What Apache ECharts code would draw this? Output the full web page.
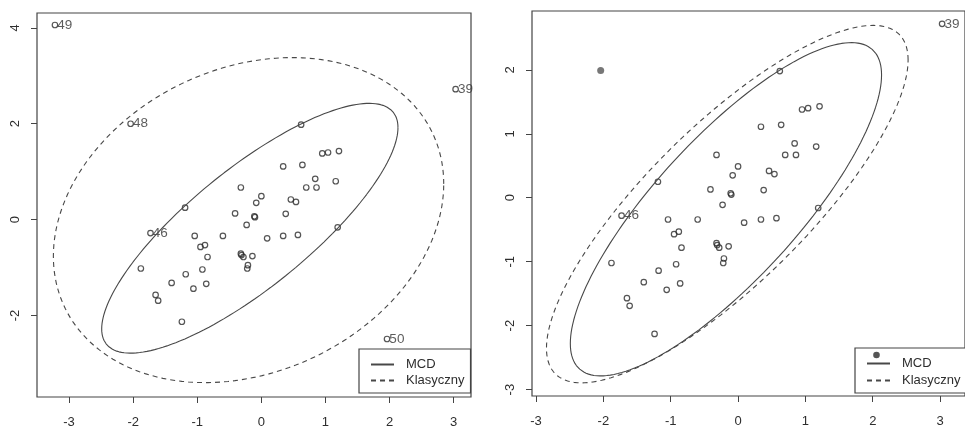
<!DOCTYPE html>
<html><head><meta charset="utf-8">
<script src="https://cdn.jsdelivr.net/npm/echarts@6/dist/echarts.min.js"></script>
<style>html,body{margin:0;padding:0;background:#fff}#c{width:965px;height:429px}</style>
</head><body><div id="c"></div>
<script>
// ---- data ----
const corePoints = [
  [0.62,1.98],[0.95,1.38],[1.04,1.40],[1.21,1.43],[0.34,1.11],[0.64,1.14],[0.84,0.85],[1.16,0.80],
  [0.70,0.67],[0.86,0.67],[-0.32,0.67],[0.00,0.49],[-0.08,0.35],[0.46,0.42],[0.54,0.37],[-1.19,0.25],
  [-0.41,0.13],[-0.11,0.07],[-0.10,0.05],[0.38,0.12],[-0.23,-0.11],[1.19,-0.16],[-1.04,-0.34],[-0.60,-0.34],
  [0.09,-0.39],[0.34,-0.34],[0.57,-0.32],[-0.95,-0.57],[-0.88,-0.53],[-0.32,-0.71],[-0.31,-0.74],[-0.28,-0.78],
  [-0.14,-0.76],[-0.84,-0.78],[-0.21,-0.95],[-0.22,-1.02],[-1.88,-1.02],[-0.92,-1.04],[-1.18,-1.14],[-1.40,-1.32],
  [-0.86,-1.34],[-1.06,-1.44],[-1.65,-1.57],[-1.61,-1.69],[-1.24,-2.13]
];
const leftLabelled = [[-3.22,4.06],[-2.04,2.00],[3.03,2.72],[1.96,-2.49],[-1.73,-0.28]];
const leftLabels = ['49','48','39','50','46'];
const rightLabelled = [[3.03,2.72],[-1.73,-0.28]];
const rightLabels = ['39','46'];
const rightFlagged = [[-2.04,1.99]];

// ellipse parameters: center [x,y], covariance [sxx, sxy, syy]
const mcdCenter = [-0.18,-0.18];
const mcdCov = [5.34, 4.85, 6.79];
const klasLeftCenter = [-0.20,-0.01];
const klasLeftCov = [9.27, 2.30, 11.49];
const klasRightCenter = [-0.16,-0.10];
const klasRightCov = [7.21, 6.05, 7.81];

const xTicks = [-3,-2,-1,0,1,2,3];
const yTicksLeft = [-2,0,2,4];
const yTicksRight = [-3,-2,-1,0,1,2];
const legendNames = ['MCD','Klasyczny'];

function ellipse(c, cov){
  const sx = Math.sqrt(cov[0]);
  const k = cov[1]/sx;
  const r = Math.sqrt(cov[2] - k*k);
  const pts = [];
  for (let i=0;i<=180;i++){
    const t = i/180*2*Math.PI;
    pts.push([c[0]+sx*Math.cos(t), c[1]+k*Math.cos(t)+r*Math.sin(t)]);
  }
  return pts;
}

const FONT = 'Liberation Sans, Arial, sans-serif';
const ink = '#2e2e2e';
const lineCol = '#484848';

function xAxis(gi, min, max){
  return {type:'value', gridIndex:gi, min:min, max:max, position:'bottom',
    axisLine:{show:false, onZero:false}, splitLine:{show:false},
    axisTick:{show:true, length:6, customValues:xTicks, lineStyle:{color:'#444', width:1}},
    axisLabel:{customValues:xTicks, margin:19, fontSize:13, color:ink, fontFamily:FONT}};
}
function yAxis(gi, min, max, ticks){
  return {type:'value', gridIndex:gi, min:min, max:max, position:'left',
    axisLine:{show:false, onZero:false}, splitLine:{show:false},
    axisTick:{show:true, length:6, customValues:ticks, lineStyle:{color:'#444', width:1}},
    axisLabel:{customValues:ticks, rotate:90, margin:15, fontSize:13, color:ink, fontFamily:FONT}};
}
const openCircle = {color:'rgba(0,0,0,0)', borderColor:'#2a2a2a', borderWidth:1.2};
const labelStyle = {show:true, position:'right', distance:-1, fontSize:13.5, color:'#333', fontFamily:FONT};
const legendCommon = {data:legendNames, orient:'vertical', itemWidth:23, itemHeight:14,
  borderColor:'#444', borderWidth:1.2, backgroundColor:'#fff',
  itemStyle:{opacity:0, borderWidth:0},
  textStyle:{fontSize:13, color:ink, fontFamily:FONT, padding:[0,0,0,7]}};

const option = {
  backgroundColor:'#fff',
  animation:false,
  grid:[
    {left:37, top:13, width:434, height:384, show:true, borderColor:'#444', borderWidth:1.2},
    {left:532, top:11, width:442, height:385, show:true, borderColor:'#444', borderWidth:1.2}
  ],
  xAxis:[xAxis(0,-3.5,3.27), xAxis(1,-3.06,3.37)],
  yAxis:[yAxis(0,-3.70,4.31,yTicksLeft), yAxis(1,-3.10,2.92,yTicksRight)],
  legend:[
    Object.assign({}, legendCommon, {left:359, top:349, padding:[9,6,6,11], itemGap:3}),
    Object.assign({}, legendCommon, {left:855, top:348, padding:[9,6,6,11], itemGap:4})
  ],
  graphic:[
    {type:'circle', shape:{cx:876.5, cy:355, r:3.3}, style:{fill:'#555'}, z:100}
  ],
  series:[
    {name:'MCD', type:'line', xAxisIndex:0, yAxisIndex:0, data:ellipse(mcdCenter,mcdCov),
     showSymbol:false, symbol:'none', lineStyle:{color:lineCol, width:1.1, type:'solid'}, itemStyle:{color:lineCol}},
    {name:'Klasyczny', type:'line', xAxisIndex:0, yAxisIndex:0, data:ellipse(klasLeftCenter,klasLeftCov),
     showSymbol:false, symbol:'none', lineStyle:{color:lineCol, width:1.1, type:[5,4]}, itemStyle:{color:lineCol}},
    {type:'scatter', xAxisIndex:0, yAxisIndex:0, data:corePoints, symbol:'circle', symbolSize:5.5, itemStyle:openCircle},
    {type:'scatter', xAxisIndex:0, yAxisIndex:0, data:leftLabelled, symbol:'circle', symbolSize:5.5, itemStyle:openCircle,
     label:Object.assign({}, labelStyle, {formatter:p=>leftLabels[p.dataIndex]})},

    {name:'MCD', type:'line', xAxisIndex:1, yAxisIndex:1, data:ellipse(mcdCenter,mcdCov),
     showSymbol:false, symbol:'none', lineStyle:{color:lineCol, width:1.1, type:'solid'}, itemStyle:{color:lineCol}},
    {name:'Klasyczny', type:'line', xAxisIndex:1, yAxisIndex:1, data:ellipse(klasRightCenter,klasRightCov),
     showSymbol:false, symbol:'none', lineStyle:{color:lineCol, width:1.1, type:[5,4]}, itemStyle:{color:lineCol}},
    {type:'scatter', xAxisIndex:1, yAxisIndex:1, data:corePoints, symbol:'circle', symbolSize:5.5, itemStyle:openCircle},
    {type:'scatter', xAxisIndex:1, yAxisIndex:1, data:rightLabelled, symbol:'circle', symbolSize:5.5, itemStyle:openCircle,
     label:Object.assign({}, labelStyle, {formatter:p=>rightLabels[p.dataIndex]})},
    {type:'scatter', xAxisIndex:1, yAxisIndex:1, data:rightFlagged, symbol:'circle', symbolSize:7, itemStyle:{color:'#555'}}
  ]
};
const chart = echarts.init(document.getElementById('c'), null, {renderer:'canvas'});
chart.setOption(option);
</script>
</body></html>
